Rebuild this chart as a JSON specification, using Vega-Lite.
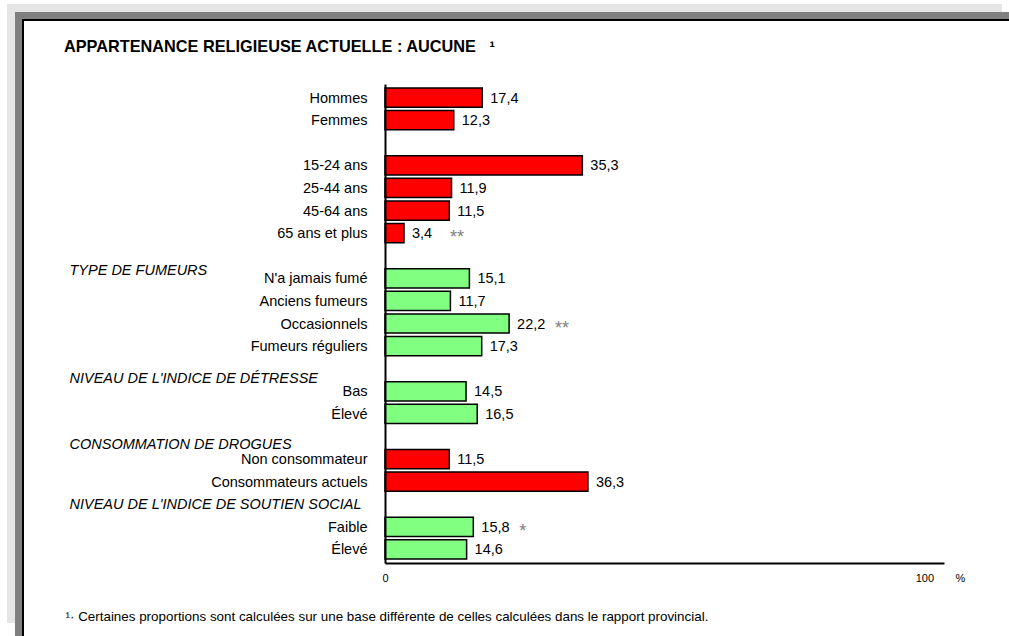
{
  "$schema": "https://vega.github.io/schema/vega-lite/v6.json",
  "width": 994,
  "height": 624,
  "autosize": {"type": "none"},
  "padding": {"left": 15, "top": 12, "right": 0, "bottom": 0},
  "background": "white",
  "config": {
    "font": "Liberation Sans",
    "view": {"fill": null, "stroke": null},
    "locale": {"number": {"decimal": ",", "thousands": " ", "grouping": [3], "currency": ["", " $"]}}
  },
  "title": {
    "text": "APPARTENANCE RELIGIEUSE ACTUELLE : AUCUNE\u00a0\u00a0\u00a0¹",
    "anchor": "start",
    "frame": "group",
    "orient": "top",
    "offset": 0,
    "dx": 49,
    "dy": 68,
    "baseline": "alphabetic",
    "font": "Liberation Sans",
    "fontSize": 16.3,
    "fontWeight": "bold",
    "color": "black"
  },
  "data": {
    "values": [
      {"cat": "Hommes", "value": 17.4, "groupe": "1"},
      {"cat": "Femmes", "value": 12.3, "groupe": "1"},
      {"cat": "15-24 ans", "value": 35.3, "groupe": "1"},
      {"cat": "25-44 ans", "value": 11.9, "groupe": "1"},
      {"cat": "45-64 ans", "value": 11.5, "groupe": "1"},
      {"cat": "65 ans et plus", "value": 3.4, "groupe": "1", "note": "**"},
      {"cat": "N'a jamais fumé", "value": 15.1, "groupe": "2"},
      {"cat": "Anciens fumeurs", "value": 11.7, "groupe": "2"},
      {"cat": "Occasionnels", "value": 22.2, "groupe": "2", "note": "**"},
      {"cat": "Fumeurs réguliers", "value": 17.3, "groupe": "2"},
      {"cat": "Bas", "value": 14.5, "groupe": "2"},
      {"cat": "Élevé", "value": 16.5, "groupe": "2"},
      {"cat": "Non consommateur", "value": 11.5, "groupe": "1"},
      {"cat": "Consommateurs actuels", "value": 36.3, "groupe": "1"},
      {"cat": "Faible", "value": 15.8, "groupe": "2", "note": "*"},
      {"cat": "Élevé\u200b", "value": 14.6, "groupe": "2"}
    ]
  },
  "layer": [
    {
      "data": {"values": [{}]},
      "mark": {"type": "rect", "filled": false, "fill": null, "stroke": "#e5e5e5", "strokeWidth": 16, "strokeCap": "square", "strokeDash": [979, 1654, 603, 0], "clip": false},
      "encoding": {}
    },
    {
      "data": {"values": [{}]},
      "mark": {"type": "rect", "fill": "white", "stroke": "black", "strokeWidth": 18, "strokeDash": [994, 1618, 624, 0], "clip": true},
      "encoding": {}
    },
    {
      "data": {"values": [{}]},
      "mark": {"type": "rect", "filled": false, "fill": null, "stroke": "#808080", "strokeWidth": 14, "strokeDash": [994, 1618, 624, 0], "clip": true},
      "encoding": {}
    },
    {
      "mark": {"type": "bar", "stroke": "black", "strokeWidth": 1.5, "height": {"band": 0.85}},
      "encoding": {
        "y": {
          "field": "cat",
          "type": "nominal",
          "sort": null,
          "scale": {
            "domain": ["Hommes", "Femmes", " ", "15-24 ans", "25-44 ans", "45-64 ans", "65 ans et plus", "TYPE DE FUMEURS", "N'a jamais fumé", "Anciens fumeurs", "Occasionnels", "Fumeurs réguliers", "NIVEAU DE L'INDICE DE DÉTRESSE", "Bas", "Élevé", "CONSOMMATION DE DROGUES", "Non consommateur", "Consommateurs actuels", "NIVEAU DE L'INDICE DE SOUTIEN SOCIAL", "Faible", "Élevé\u200b"],
            "range": [72, 551],
            "paddingInner": 0,
            "paddingOuter": 0.1
          },
          "axis": {
            "title": null,
            "orient": "left",
            "offset": -370,
            "zindex": 1,
            "ticks": false,
            "grid": false,
            "domainColor": "black",
            "domainWidth": 2,
            "labelFontSize": 14.5,
            "labelColor": "black",
            "labelLimit": 0,
            "labelOverlap": false,
            "labelBound": false,
            "labelPadding": {"condition": {"test": "length(datum.value) > 12 && upper(datum.value) == datum.value", "value": 316}, "value": 18},
            "labelAlign": {"condition": {"test": "length(datum.value) > 12 && upper(datum.value) == datum.value", "value": "left"}, "value": "right"},
            "labelFontStyle": {"condition": {"test": "length(datum.value) > 12 && upper(datum.value) == datum.value", "value": "italic"}, "value": "normal"},
            "labelOffset": {
              "condition": [
                {"test": "indexof(datum.value, 'TYPE DE') == 0", "value": 15},
                {"test": "indexof(datum.value, 'DÉTRESSE') >= 0", "value": 10},
                {"test": "indexof(datum.value, 'DROGUES') >= 0", "value": 9}
              ],
              "value": 1
            }
          }
        },
        "x": {
          "field": "value",
          "type": "quantitative",
          "scale": {"domain": [0, 100], "range": [370, 929], "nice": false, "zero": true},
          "axis": {
            "orient": "bottom",
            "offset": -73,
            "zindex": 1,
            "values": [0, 100],
            "ticks": false,
            "grid": false,
            "domainColor": "black",
            "domainWidth": 2,
            "labelExpr": "datum.value == 100 ? '100\u00a0\u00a0\u00a0\u00a0\u00a0\u00a0\u00a0%' : datum.label",
            "labelFlush": false,
            "labelAlign": "center",
            "labelOffset": {"condition": {"test": "datum.value == 100", "value": -4}, "value": 0},
            "labelFontSize": 11,
            "labelPadding": 9,
            "labelColor": "black",
            "title": "¹· Certaines proportions sont calculées sur une base différente de celles calculées dans le rapport provincial.",
            "titleX": 50,
            "titleY": 57,
            "titleAlign": "left",
            "titleAnchor": "start",
            "titleBaseline": "alphabetic",
            "titleFontSize": 13.4,
            "titleFontWeight": "normal",
            "titleColor": "black",
            "titleLimit": 0
          }
        },
        "color": {
          "field": "groupe",
          "type": "nominal",
          "scale": {"domain": ["1", "2"], "range": ["#ff0000", "#80ff80"]},
          "legend": null
        }
      }
    },
    {
      "mark": {"type": "text", "align": "left", "baseline": "middle", "dx": 8, "dy": 1, "fontSize": 14.5, "color": "black"},
      "encoding": {
        "y": {"field": "cat", "type": "nominal"},
        "x": {"field": "value", "type": "quantitative"},
        "text": {"field": "value", "type": "quantitative", "format": ".1f"}
      }
    },
    {
      "transform": [{"filter": "datum.note"}],
      "mark": {"type": "text", "align": "left", "baseline": "alphabetic", "dx": 46, "dy": 10, "fontSize": 18, "color": "#808080"},
      "encoding": {
        "y": {"field": "cat", "type": "nominal"},
        "x": {"field": "value", "type": "quantitative"},
        "text": {"field": "note", "type": "nominal"}
      }
    }
  ]
}
